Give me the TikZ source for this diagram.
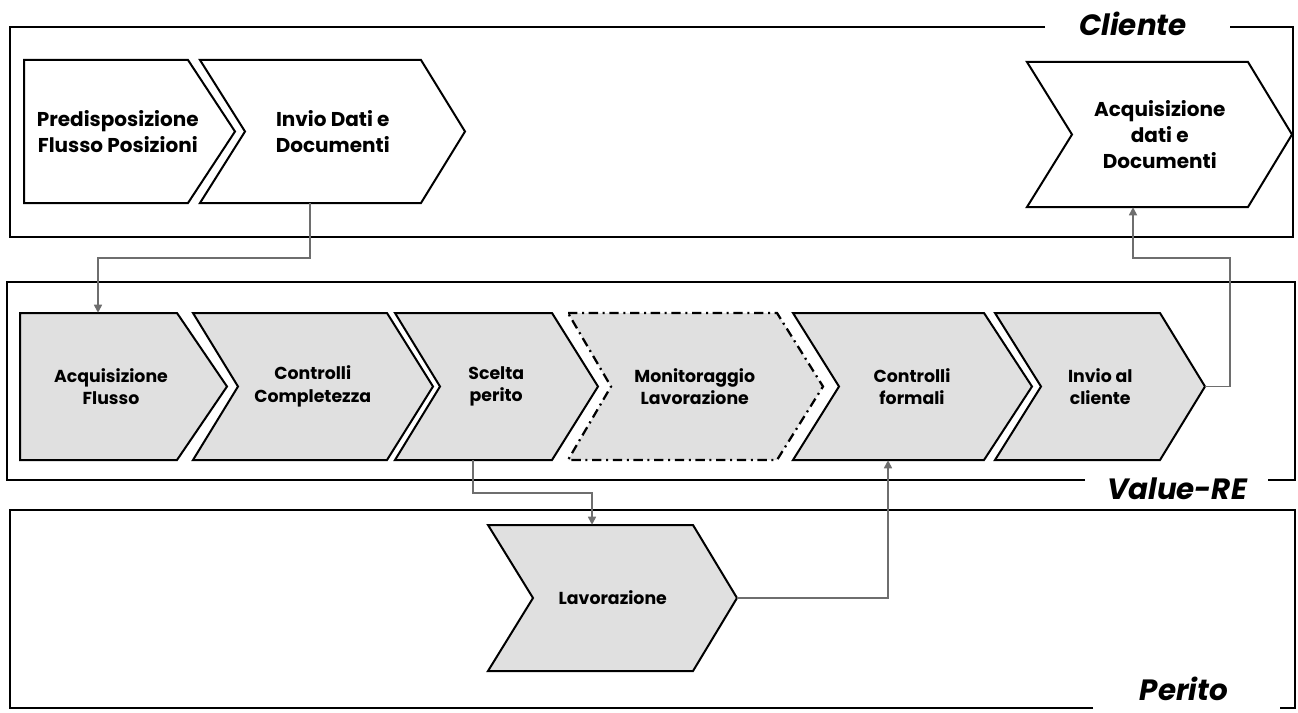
\documentclass[tikz,border=0pt]{standalone}
\usepackage{fontspec}
\setmainfont{Poppins}
\usetikzlibrary{arrows.meta,calc}
\definecolor{chevgray}{HTML}{E0E0E0}
\definecolor{conngray}{HTML}{6E6E6E}
\tikzset{
  lane/.style={line width=1.1pt, draw=black},
  chevw/.style={draw=black, line width=1.5pt, fill=white},
  chevg/.style={draw=black, line width=1.5pt, fill=chevgray},
  chevdd/.style={draw=black, line width=1.7pt, fill=chevgray, dash pattern=on 7pt off 3.5pt on 1.5pt off 3.5pt},
  chevbox/.style={inner sep=0pt, draw=none},
  txtbig/.style={font=\bfseries\fontsize{15}{19.5}\selectfont, align=center, inner sep=0pt},
  txtsmall/.style={font=\bfseries\fontsize{13}{17}\selectfont, align=center, inner sep=0pt},
  lanetitle/.style={font=\bfseries\itshape\fontsize{22}{24}\selectfont, inner sep=0pt},
  conn/.style={draw=conngray, line width=1.2pt, -{Triangle[width=6pt,length=6pt]}},
}
% #1 shape style, #2 text style, #3 name, #4 xl, #5 xtip, #6 notch, #7 depth, #8 text
\newcommand\chev[8]{%
  \path[#1] (#4,\yt) -- ({#5-#7},\yt) -- (#5,{(\yt+\yb)/2}) -- ({#5-#7},\yb) -- (#4,\yb) -- ({#4+#6},{(\yt+\yb)/2}) -- cycle;
  \node[chevbox, minimum width={(#5-#4)*0.75pt}, minimum height={(\yb-\yt)*0.75pt},
        label={[#2, xshift={(#6-#7)/4*0.75pt}]center:{#8}}] (#3) at ({(#4+#5)/2},{(\yt+\yb)/2}) {};
}
\begin{document}
\begin{tikzpicture}[x=0.75pt, y=-0.75pt]
\useasboundingbox (0,0) rectangle (1298,713);

% lanes
\draw[lane] (1045,27) -- (10,27) -- (10,237) -- (1293,237) -- (1293,27) -- (1230,27);
\draw[lane] (1085,480) -- (7,480) -- (7,282) -- (1295,282) -- (1295,480) -- (1268,480);
\draw[lane] (1093,708) -- (10,708) -- (10,510) -- (1295,510) -- (1295,708) -- (1280,708);
\node[lanetitle] (tcliente) at (1133,24) {Cliente};
\node[lanetitle] (tvalue) at (1177,489) {Value-RE};
\node[lanetitle] (tperito) at (1184,689) {Perito};

% Cliente row
\def\yt{60}\def\yb{203}
\chev{chevw}{txtbig}{predisp}{24}{235}{0}{47}{Predisposizione\\Flusso Posizioni}
\chev{chevw}{txtbig}{inviodati}{200}{465}{45}{44}{Invio Dati e\\Documenti}
\def\yt{62}\def\yb{207}
\chev{chevw}{txtbig}{acqdati}{1027}{1292}{45}{44}{Acquisizione\\dati e\\Documenti}

% Value-RE row
\def\yt{313}\def\yb{460}
\chev{chevg}{txtsmall}{acqflusso}{20}{227}{0}{50}{Acquisizione\\Flusso}
\chev{chevg}{txtsmall}{ctrlcomp}{193}{433}{45}{46}{Controlli\\Completezza}
\chev{chevg}{txtsmall}{scelta}{395}{598}{45}{46}{Scelta\\perito}
\chev{chevdd}{txtsmall}{monit}{568}{823}{43}{46}{Monitoraggio\\Lavorazione}
\chev{chevg}{txtsmall}{ctrlform}{793}{1032}{46}{48}{Controlli\\formali}
\chev{chevg}{txtsmall}{inviocl}{995}{1205}{46}{45}{Invio al\\cliente}

% Perito row
\def\yt{525}\def\yb{671}
\chev{chevg}{txtsmall}{lavor}{488}{737}{45}{44}{Lavorazione}

% connectors
\draw[conn] ($(inviodati.south)+(-22.5,0)$) |- ($(acqflusso.north)+(-25.5,-55)$) -- ($(acqflusso.north)+(-25.5,0)$);
\draw[conn] ($(scelta.south)+(-23.5,0)$) |- ($(lavor.north)+(-20.5,-32)$) -- ($(lavor.north)+(-20.5,0)$);
\draw[conn] (lavor.east) -| ($(ctrlform.south)+(-24.5,0)$);
\draw[conn] (inviocl.east) -- ++(25,0) |- ($(acqdati.south)+(-26.5,51)$) -- ($(acqdati.south)+(-26.5,0)$);
\end{tikzpicture}
\end{document}
